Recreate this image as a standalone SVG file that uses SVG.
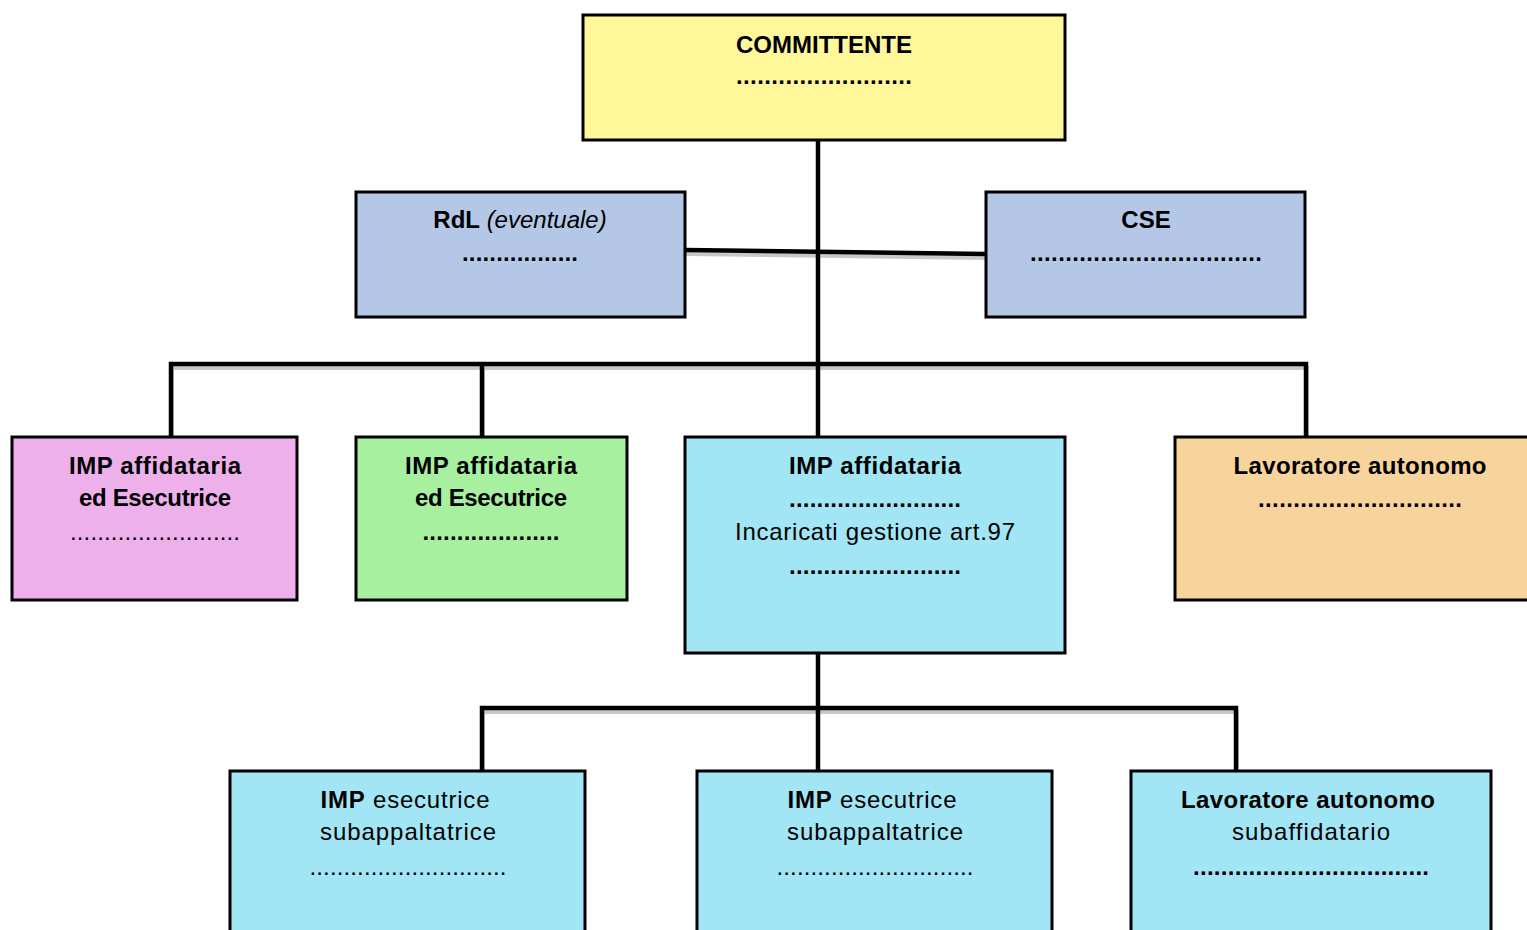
<svg xmlns="http://www.w3.org/2000/svg" width="1527" height="930" viewBox="0 0 1527 930">
<style>
  .box{stroke:#000;stroke-width:3}
  .t{font-family:"Liberation Sans",Arial,sans-serif;font-size:24px;fill:#000;text-anchor:middle}
  .b{font-weight:bold}
  .i{font-style:italic}
  .ln{stroke:#000;stroke-width:4.5;fill:none}
  .sh{stroke:#c8c8c8;stroke-width:4;fill:none}
</style>
<rect width="1527" height="930" fill="#fff"/>
<g id="connectors">
  <g transform="translate(1,4)">
    <line class="sh" x1="685" y1="250" x2="986" y2="254"/>
    <polyline class="sh" points="171,437 171,364 1306,364 1306,437"/>
    <line class="sh" x1="482" y1="364" x2="482" y2="437"/>
    <polyline class="sh" points="482,771 482,708 1236,708 1236,771"/>
  </g>
  <line class="ln" x1="685" y1="250" x2="986" y2="254"/>
  <line class="ln" x1="818" y1="140" x2="818" y2="437"/>
  <polyline class="ln" points="171,437 171,364 1306,364 1306,437"/>
  <line class="ln" x1="482" y1="364" x2="482" y2="437"/>
  <line class="ln" x1="818" y1="653" x2="818" y2="771"/>
  <polyline class="ln" points="482,771 482,708 1236,708 1236,771"/>
</g>
<g id="committente">
  <rect class="box" x="583" y="15" width="482" height="125" fill="#FFF799"/>
  <text class="t b" x="824" y="53" textLength="176" lengthAdjust="spacing">COMMITTENTE</text>
  <text class="t b" x="824" y="84" textLength="176" lengthAdjust="spacing">.........................</text>
</g>
<g id="rdl">
  <rect class="box" x="356" y="192" width="329" height="125" fill="#B4C7E7"/>
  <text class="t" x="520" y="228"><tspan class="b">RdL</tspan> <tspan class="i">(eventuale)</tspan></text>
  <text class="t b" x="520" y="261" textLength="116" lengthAdjust="spacing">.................</text>
</g>
<g id="cse">
  <rect class="box" x="986" y="192" width="319" height="125" fill="#B4C7E7"/>
  <text class="t b" x="1146" y="228">CSE</text>
  <text class="t b" x="1146" y="261" textLength="232" lengthAdjust="spacing">.................................</text>
</g>
<g id="imp-pink">
  <rect class="box" x="12" y="437" width="285" height="163" fill="#EDB0EB"/>
  <text class="t b" x="155" y="474" textLength="172" lengthAdjust="spacing">IMP affidataria</text>
  <text class="t b" x="155" y="506" textLength="152" lengthAdjust="spacing">ed Esecutrice</text>
  <text class="t" x="155" y="540" textLength="170" lengthAdjust="spacing">.........................</text>
</g>
<g id="imp-green">
  <rect class="box" x="356" y="437" width="271" height="163" fill="#A6F0A0"/>
  <text class="t b" x="491" y="474" textLength="172" lengthAdjust="spacing">IMP affidataria</text>
  <text class="t b" x="491" y="506" textLength="152" lengthAdjust="spacing">ed Esecutrice</text>
  <text class="t b" x="491" y="540" textLength="137" lengthAdjust="spacing">....................</text>
</g>
<g id="imp-affidataria">
  <rect class="box" x="685" y="437" width="380" height="216" fill="#A2E5F5"/>
  <text class="t b" x="875" y="474" textLength="172" lengthAdjust="spacing">IMP affidataria</text>
  <text class="t b" x="875" y="507" textLength="172" lengthAdjust="spacing">.........................</text>
  <text class="t" x="875" y="540" textLength="280" lengthAdjust="spacing">Incaricati gestione art.97</text>
  <text class="t b" x="875" y="574" textLength="172" lengthAdjust="spacing">.........................</text>
</g>
<g id="lavoratore">
  <rect class="box" x="1175" y="437" width="362" height="163" fill="#F8D49D"/>
  <text class="t b" x="1360" y="474" textLength="253" lengthAdjust="spacing">Lavoratore autonomo</text>
  <text class="t b" x="1360" y="507" textLength="204" lengthAdjust="spacing">.............................</text>
</g>
<g id="sub1">
  <rect class="box" x="230" y="771" width="355" height="170" fill="#A2E5F5"/>
  <text class="t" x="405" y="808" textLength="169" lengthAdjust="spacing"><tspan class="b">IMP</tspan> esecutrice</text>
  <text class="t" x="408" y="840" textLength="176" lengthAdjust="spacing">subappaltatrice</text>
  <text class="t" x="408" y="875" textLength="197" lengthAdjust="spacing">.............................</text>
</g>
<g id="sub2">
  <rect class="box" x="697" y="771" width="355" height="170" fill="#A2E5F5"/>
  <text class="t" x="872" y="808" textLength="169" lengthAdjust="spacing"><tspan class="b">IMP</tspan> esecutrice</text>
  <text class="t" x="875" y="840" textLength="176" lengthAdjust="spacing">subappaltatrice</text>
  <text class="t" x="875" y="875" textLength="197" lengthAdjust="spacing">.............................</text>
</g>
<g id="sub3">
  <rect class="box" x="1131" y="771" width="360" height="170" fill="#A2E5F5"/>
  <text class="t b" x="1308" y="808" textLength="254" lengthAdjust="spacing">Lavoratore autonomo</text>
  <text class="t" x="1311" y="840" textLength="158" lengthAdjust="spacing">subaffidatario</text>
  <text class="t b" x="1311" y="875" textLength="236" lengthAdjust="spacing">..................................</text>
</g>
</svg>
